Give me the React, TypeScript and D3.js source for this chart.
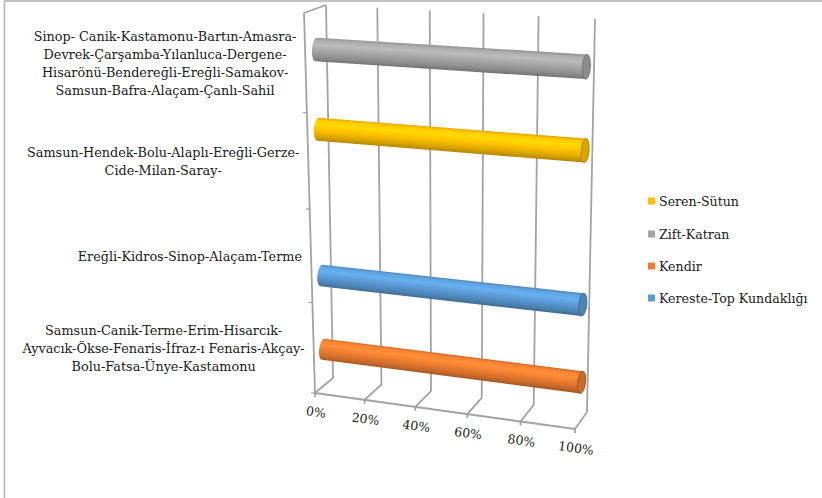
import React, { useEffect, useRef } from "react";
import * as d3 from "d3";

// ---- data (categories listed in axis order, bottom to top) ----
const categories = [
  "Samsun-Canik-Terme-Erim-Hisarcık-\nAyvacık-Ökse-Fenaris-İfraz-ı Fenaris-Akçay-\nBolu-Fatsa-Ünye-Kastamonu",
  "Ereğli-Kidros-Sinop-Alaçam-Terme",
  "Samsun-Hendek-Bolu-Alaplı-Ereğli-Gerze-\nCide-Milan-Saray-",
  "Sinop- Canik-Kastamonu-Bartın-Amasra-\nDevrek-Çarşamba-Yılanluca-Dergene-\nHisarönü-Bendereğli-Ereğli-Samakov-\nSamsun-Bafra-Alaçam-Çanlı-Sahil",
];
const seriesNames = ["Kereste-Top Kundaklığı", "Kendir", "Zift-Katran", "Seren-Sütun"];
const kereste = [0, 100, 0, 0];
const kendir = [100, 0, 0, 0];
const ziftKatran = [0, 0, 0, 100];
const serenSutun = [0, 0, 100, 0];
const seriesValues = [kereste, kendir, ziftKatran, serenSutun];
const seriesColors = ["#5B9BD5", "#ED7D31", "#A5A5A5", "#FFC000"];
const tickValues = [0, 20, 40, 60, 80, 100];
const tickLabels = ["0%", "20%", "40%", "60%", "80%", "100%"];
const legendOrder = ["Seren-Sütun", "Zift-Katran", "Kendir", "Kereste-Top Kundaklığı"];

const W = 822;
const H = 498;
const FONT = "'DejaVu Serif', serif";

// box corners (back plane d=0, front plane d=1)
const B00 = [333, 378], B10 = [587, 412], B01 = [326, 5], B11 = [595, 19];
const F00 = [315, 393], F10 = [575, 429], F01 = [304, 13], F11 = [579, 29];
const persp = (t: number, a: number) => (a * t) / (1 + (a - 1) * t);

function bil(p00: number[], p10: number[], p01: number[], p11: number[], u: number, w: number) {
  const x = (1 - u) * (1 - w) * p00[0] + u * (1 - w) * p10[0] + (1 - u) * w * p01[0] + u * w * p11[0];
  const y = (1 - u) * (1 - w) * p00[1] + u * (1 - w) * p10[1] + (1 - u) * w * p01[1] + u * w * p11[1];
  return [x, y];
}
function P(v: number, h: number, d: number): [number, number] {
  const u = persp(v, 0.942);
  const w = persp(h, 0.938);
  const b = bil(B00, B10, B01, B11, u, w);
  const f = bil(F00, F10, F01, F11, u, w);
  return [b[0] * (1 - d) + f[0] * d, b[1] * (1 - d) + f[1] * d];
}

export default function App() {
  const ref = useRef<SVGSVGElement>(null);
  useEffect(() => {
    const svg = d3.select(ref.current);
    svg.selectAll("*").remove();

    const x = d3.scaleLinear().domain([0, 100]).range([0, 1]);
    const yCat = d3.scaleBand<string>().domain(categories).range([0, 1]);
    const ySer = d3
      .scaleBand<string>()
      .domain(seriesNames)
      .range([0, yCat.bandwidth()])
      .paddingInner(0)
      .paddingOuter(0.7);

    // outer border
    svg.append("rect").attr("x", 4.5).attr("y", 1).attr("width", W + 20).attr("height", H + 20)
      .attr("fill", "white").attr("stroke", "#b4b4b4").attr("stroke-width", 1.6);

    const line = d3.line();
    const gridColor = "#a3a3a3";
    const gw = 1.8;
    const g = svg.append("g").attr("fill", "none").attr("stroke", gridColor).attr("stroke-width", gw)
      .attr("stroke-linejoin", "round");

    // back gridlines + floor lines
    tickValues.forEach((t) => {
      const v = x(t);
      g.append("path").attr("d", line([P(v, 1, 0), P(v, 0, 0), P(v, 0, 1)]));
      const fp = P(v, 0, 1);
      g.append("path").attr("d", line([fp, [fp[0], fp[1] + 4]]));
    });
    // front edge of floor
    g.append("path").attr("d", line([P(0, 0, 1), P(1, 0, 1)]));
    // left wall
    g.append("path").attr("d", line([P(0, 0, 1), P(0, 1, 1), P(0, 1, 0)]));
    // category ticks
    [0, 0.25, 0.5, 0.75].forEach((h) => {
      const p = P(0, h, 1);
      g.append("path").attr("d", line([[p[0] - 4, p[1]], p])).attr("stroke-width", 1.2);
    });

    // cylinders
    const defs = svg.append("defs");
    seriesNames.forEach((s, si) => {
      const col = seriesColors[si];
      seriesValues[si].forEach((val, ci) => {
        if (!val) return;
        const cat = categories[ci];
        const hc = (yCat(cat) as number) + (ySer(s) as number) + ySer.bandwidth() / 2;
        const rH = ySer.bandwidth() * 0.64;
        const v1 = x(val);
        const L = P(0, hc, 0.5);
        const R = P(v1, hc, 0.5);
        const dx = R[0] - L[0], dy = R[1] - L[1];
        const len = Math.hypot(dx, dy);
        const u = [dx / len, dy / len];
        const n = [u[1], -u[0]]; // points up
        const rl = Math.hypot(P(0, hc + rH, 0.5)[0] - L[0], P(0, hc + rH, 0.5)[1] - L[1]);
        const rr = Math.hypot(P(v1, hc + rH, 0.5)[0] - R[0], P(v1, hc + rH, 0.5)[1] - R[1]);
        const capRx = 4;
        const ang = (Math.atan2(u[1], u[0]) * 180) / Math.PI;
        const c = d3.color(col)!;
        const id = `grad${si}_${ci}`;
        const M = [(L[0] + R[0]) / 2, (L[1] + R[1]) / 2];
        const rm = (rl + rr) / 2;
        const lg = defs.append("linearGradient").attr("id", id).attr("gradientUnits", "userSpaceOnUse")
          .attr("x1", M[0] + n[0] * rm).attr("y1", M[1] + n[1] * rm)
          .attr("x2", M[0] - n[0] * rm).attr("y2", M[1] - n[1] * rm);
        const stops: [number, string][] = [
          [0, c.darker(0.35).formatHex()],
          [0.12, c.brighter(0.15).formatHex()],
          [0.3, c.brighter(0.35).formatHex()],
          [0.55, c.formatHex()],
          [0.82, c.darker(0.45).formatHex()],
          [1, c.darker(1.0).formatHex()],
        ];
        stops.forEach(([o, sc]) => lg.append("stop").attr("offset", o).attr("stop-color", sc));

        const Lt = [L[0] + n[0] * rl, L[1] + n[1] * rl];
        const Lb = [L[0] - n[0] * rl, L[1] - n[1] * rl];
        const Rt = [R[0] + n[0] * rr, R[1] + n[1] * rr];
        const Rb = [R[0] - n[0] * rr, R[1] - n[1] * rr];
        const body = `M${Lt[0]},${Lt[1]} L${Rt[0]},${Rt[1]} A${capRx},${rr} ${ang} 0 1 ${Rb[0]},${Rb[1]} L${Lb[0]},${Lb[1]} A${capRx},${rl} ${ang} 0 1 ${Lt[0]},${Lt[1]} Z`;
        svg.append("path").attr("d", body).attr("fill", `url(#${id})`);
        svg.append("ellipse").attr("cx", R[0]).attr("cy", R[1]).attr("rx", capRx).attr("ry", rr)
          .attr("transform", `rotate(${ang},${R[0]},${R[1]})`)
          .attr("fill", c.darker(0.45).formatHex()).attr("stroke", c.darker(1.1).formatHex()).attr("stroke-width", 0.8);
      });
    });

    // category labels
    categories.forEach((cat) => {
      const hc = (yCat(cat) as number) + yCat.bandwidth() / 2;
      const p = P(0, hc, 1);
      const lines = cat.split("\n");
      const lh = 18;
      const tg = svg.append("g").attr("font-family", FONT).attr("font-size", 12.8).attr("fill", "#1a1a1a");
      const texts = lines.map((ln, i) =>
        tg.append("text").attr("y", p[1] + (i - (lines.length - 1) / 2) * lh)
          .attr("dominant-baseline", "central").attr("text-anchor", "middle").text(ln)
      );
      const maxW = d3.max(texts, (t) => (t.node() as SVGTextElement).getComputedTextLength()) || 0;
      const right = p[0] - 9;
      texts.forEach((t) => t.attr("x", right - maxW / 2));
    });

    // value tick labels
    const f0 = P(0, 0, 1), f1 = P(1, 0, 1);
    const rot = (Math.atan2(f1[1] - f0[1], f1[0] - f0[0]) * 180) / Math.PI;
    tickValues.forEach((t, i) => {
      const p = P(x(t), 0, 1);
      const lx = p[0] + 1, ly = p[1] + 19;
      svg.append("text").attr("x", lx).attr("y", ly).attr("text-anchor", "middle")
        .attr("dominant-baseline", "central").attr("font-family", FONT).attr("font-size", 12.5)
        .attr("fill", "#1a1a1a").attr("transform", `rotate(${rot},${lx},${ly})`).text(tickLabels[i]);
    });

    // legend
    const legY = [201, 234, 266, 298];
    legendOrder.forEach((name, i) => {
      const si = seriesNames.indexOf(name);
      svg.append("rect").attr("x", 648).attr("y", legY[i] - 3.5).attr("width", 7).attr("height", 7)
        .attr("fill", seriesColors[si]);
      svg.append("text").attr("x", 659).attr("y", legY[i]).attr("dominant-baseline", "central")
        .attr("font-family", FONT).attr("font-size", 12.6).attr("fill", "#1a1a1a").text(name);
    });
  }, []);

  return (
    <svg ref={ref} width={W} height={H} style={{ position: "absolute", left: 0, top: 0, background: "white" }} />
  );
}
